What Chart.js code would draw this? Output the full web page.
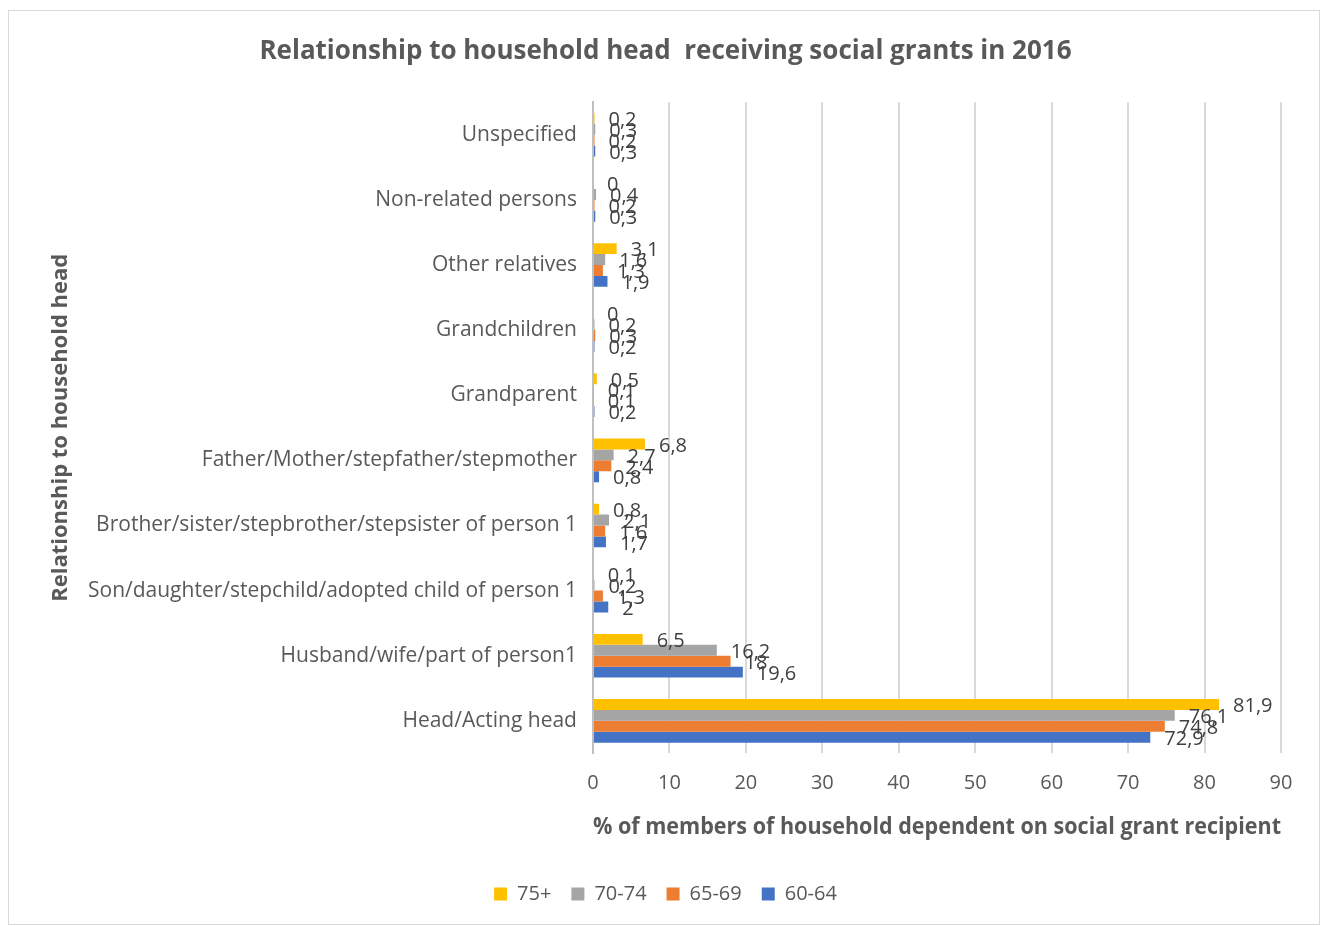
<!DOCTYPE html>
<html>
<head>
<meta charset="utf-8">
<script src="https://cdn.jsdelivr.net/npm/chart.js@4"></script>
<style>
  html, body { margin: 0; padding: 0; background: #fff; }
  #wrap { position: absolute; left: 8px; top: 10px; width: 1312px; height: 915px; border: 1px solid #d9d9d9; box-sizing: border-box; }
  canvas { display: block; }
</style>
</head>
<body>
<div id="wrap"><canvas id="myChart" width="1310" height="913"></canvas></div>
<script>
const categories = [
  'Unspecified',
  'Non-related persons',
  'Other relatives',
  'Grandchildren',
  'Grandparent',
  'Father/Mother/stepfather/stepmother',
  'Brother/sister/stepbrother/stepsister of person 1',
  'Son/daughter/stepchild/adopted child of person 1',
  'Husband/wife/part of person1',
  'Head/Acting head'
];
const age75plus = [0.2, 0, 3.1, 0, 0.5, 6.8, 0.8, 0.1, 6.5, 81.9];
const age70to74 = [0.3, 0.4, 1.6, 0.2, 0.1, 2.7, 2.1, 0.2, 16.2, 76.1];
const age65to69 = [0.2, 0.2, 1.3, 0.3, 0.1, 2.4, 1.6, 1.3, 18, 74.8];
const age60to64 = [0.3, 0.3, 1.9, 0.2, 0.2, 0.8, 1.7, 2, 19.6, 72.9];
const xTicks = [0, 10, 20, 30, 40, 50, 60, 70, 80, 90];

const fontFamily = '"Open Sans", sans-serif';
const textColor = '#595959';

// value labels just past the end of each bar, comma decimals
const barLabels = {
  id: 'barLabels',
  afterDatasetsDraw(chart) {
    const ctx = chart.ctx;
    ctx.save();
    ctx.font = '20px ' + fontFamily;
    ctx.fillStyle = '#404040';
    ctx.textBaseline = 'middle';
    ctx.textAlign = 'left';
    chart.data.datasets.forEach((ds, i) => {
      chart.getDatasetMeta(i).data.forEach((bar, j) => {
        const txt = String(ds.data[j]).replace('.', ',');
        ctx.fillText(txt, bar.x + 14, bar.y + 2);
      });
    });
    ctx.restore();
  }
};

const chart = new Chart(document.getElementById('myChart').getContext('2d'), {
  type: 'bar',
  data: {
    labels: categories,
    datasets: [
      { label: '75+', data: age75plus, backgroundColor: '#ffc000' },
      { label: '70-74', data: age70to74, backgroundColor: '#a5a5a5' },
      { label: '65-69', data: age65to69, backgroundColor: '#ed7d31' },
      { label: '60-64', data: age60to64, backgroundColor: '#4472c4' }
    ]
  },
  options: {
    responsive: false,
    animation: false,
    indexAxis: 'y',
    datasets: {
      bar: { categoryPercentage: 0.67, barPercentage: 1.0 }
    },
    layout: { padding: { left: 41, right: 38, top: 10, bottom: 10 } },
    plugins: {
      title: {
        display: true,
        text: 'Relationship to household head  receiving social grants in 2016',
        color: textColor,
        font: { family: fontFamily, size: 26, weight: 'bold' },
        padding: { top: 15, bottom: 35 }
      },
      legend: {
        position: 'bottom',
        labels: {
          color: textColor,
          font: { family: fontFamily, size: 20 },
          boxWidth: 13,
          boxHeight: 13,
          padding: 20
        }
      },
      tooltip: { enabled: false }
    },
    scales: {
      x: {
        min: 0,
        max: 90,
        afterBuildTicks(axis) { axis.ticks = xTicks.map(v => ({ value: v })); },
        grid: { color: '#d9d9d9', lineWidth: 2, drawTicks: false },
        border: { display: false },
        ticks: { color: textColor, font: { family: fontFamily, size: 20, lineHeight: 1 }, padding: 20 },
        title: {
          display: true,
          text: '% of members of household dependent on social grant recipient',
          color: textColor,
          font: { family: fontFamily, size: 23, weight: 'bold' },
          padding: { top: 0, bottom: 23 }
        }
      },
      y: {
        grid: { display: false, drawTicks: false },
        border: { color: '#bfbfbf', width: 2 },
        ticks: { color: textColor, font: { family: fontFamily, size: 21 }, padding: 16 },
        title: {
          display: true,
          text: 'Relationship to household head',
          color: textColor,
          font: { family: fontFamily, size: 22, weight: 'bold', lineHeight: 1 },
          padding: { top: 0, bottom: 0 }
        }
      }
    }
  },
  plugins: [barLabels]
});
</script>
</body>
</html>
